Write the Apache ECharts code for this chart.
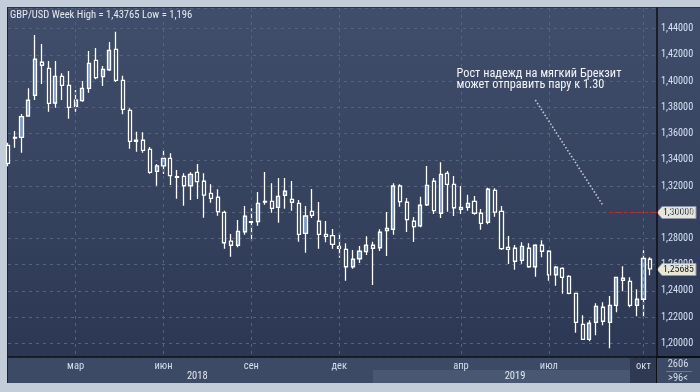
<!DOCTYPE html>
<html><head><meta charset="utf-8">
<script src="https://cdn.jsdelivr.net/npm/echarts@6/dist/echarts.min.js"></script>
<style>
html,body{margin:0;padding:0;background:#c3ccd9;overflow:hidden;}
#wrap{position:relative;width:700px;height:392px;}
#bg{position:absolute;left:7px;top:7px;width:693px;height:376px;border-left:1px solid #1c2433;border-top:1px solid #2a3345;box-sizing:border-box;
background:linear-gradient(to bottom,#414e6b 0px,#2c3853 349px,#3d4a66 349px,#3d4a66 376px);}
#band19{position:absolute;left:373px;top:370px;width:257px;height:13px;background:#4a5773;}
#oct{position:absolute;left:630px;top:357px;width:27px;height:26px;background:#2f3a52;}
#vline{position:absolute;left:656px;top:357px;width:1px;height:26px;background:#0c0f16;}
#hline{position:absolute;left:657px;top:356px;width:43px;height:2px;background:#0c0f16;}
#c{position:absolute;left:0;top:0;width:700px;height:392px;}
</style>
</head><body><div id="wrap"><div id="bg"></div><div id="band19"></div><div id="oct"></div><div id="vline"></div><div id="hline"></div><div id="c"></div></div>
<script>
const categories = ['2017-12-18','2017-12-25','2018-01-01','2018-01-08','2018-01-15','2018-01-22','2018-01-29','2018-02-05','2018-02-12','2018-02-19',
'2018-02-26','2018-03-05','2018-03-12','2018-03-19','2018-03-26','2018-04-02','2018-04-09','2018-04-16','2018-04-23','2018-04-30',
'2018-05-07','2018-05-14','2018-05-21','2018-05-28','2018-06-04','2018-06-11','2018-06-18','2018-06-25','2018-07-02','2018-07-09',
'2018-07-16','2018-07-23','2018-07-30','2018-08-06','2018-08-13','2018-08-20','2018-08-27','2018-09-03','2018-09-10','2018-09-17',
'2018-09-24','2018-10-01','2018-10-08','2018-10-15','2018-10-22','2018-10-29','2018-11-05','2018-11-12','2018-11-19','2018-11-26',
'2018-12-03','2018-12-10','2018-12-17','2018-12-24','2018-12-31','2019-01-07','2019-01-14','2019-01-21','2019-01-28','2019-02-04',
'2019-02-11','2019-02-18','2019-02-25','2019-03-04','2019-03-11','2019-03-18','2019-03-25','2019-04-01','2019-04-08','2019-04-15',
'2019-04-22','2019-04-29','2019-05-06','2019-05-13','2019-05-20','2019-05-27','2019-06-03','2019-06-10','2019-06-17','2019-06-24',
'2019-07-01','2019-07-08','2019-07-15','2019-07-22','2019-07-29','2019-08-05','2019-08-12','2019-08-19','2019-08-26','2019-09-02',
'2019-09-09','2019-09-16','2019-09-23','2019-09-30','2019-10-07','2019-10-14','2019-10-21'];

const openV = [1.3510,1.3565,1.3571,1.3734,1.3892,1.4144,1.4098,1.3833,1.4037,1.3968,
1.3808,1.3851,1.3945,1.4159,1.4034,1.4087,1.4243,1.4006,1.3777,1.3550,
1.3549,1.3480,1.3312,1.3353,1.3411,1.3272,1.3274,1.3202,1.3304,1.3236,
1.3144,1.3114,1.2999,1.2780,1.2748,1.2851,1.2928,1.2928,1.3082,1.3083,
1.3037,1.3129,1.3098,1.3068,1.2839,1.3007,1.2931,1.2831,1.2821,1.2740,
1.2717,1.2584,1.2645,1.2699,1.2748,1.2729,1.2859,1.2870,1.3200,1.3076,
1.2931,1.2895,1.3057,1.3236,1.2992,1.3297,1.3213,1.3022,1.3037,1.3083,
1.2992,1.2923,1.3167,1.3007,1.2732,1.2725,1.2633,1.2725,1.2584,1.2748,
1.2702,1.2523,1.2572,1.2511,1.2381,1.2145,1.2030,1.2160,1.2275,1.2160,
1.2290,1.2496,1.2473,1.2290,1.2336,1.2641];

const closeV = [1.3373,1.3570,1.3729,1.3854,1.4167,1.4121,1.3831,1.4037,1.3968,1.3800,
1.3854,1.3945,1.4136,1.4026,1.4090,1.4235,1.4006,1.3785,1.3541,1.3541,
1.3472,1.3304,1.3353,1.3411,1.3279,1.3266,1.3202,1.3289,1.3233,1.3131,
1.3106,1.3004,1.2767,1.2748,1.2854,1.2969,1.2923,1.3068,1.3078,1.3030,
1.3121,1.3160,1.3076,1.2831,1.2971,1.2976,1.2831,1.2816,1.2755,1.2725,
1.2584,1.2641,1.2702,1.2748,1.2725,1.2847,1.2877,1.3200,1.3080,1.2943,
1.2890,1.3053,1.3205,1.3012,1.3289,1.3213,1.3034,1.3037,1.3068,1.2992,
1.2915,1.3175,1.3000,1.2722,1.2717,1.2626,1.2740,1.2584,1.2748,1.2702,
1.2523,1.2580,1.2503,1.2381,1.2160,1.2030,1.2153,1.2282,1.2168,1.2290,
1.2503,1.2481,1.2290,1.2336,1.2648,1.2568];

const lowV = [1.3350,1.3492,1.3454,1.3729,1.3856,1.3978,1.3767,1.3797,1.3856,1.3713,
1.3767,1.3843,1.3912,1.4014,1.3963,1.4077,1.3993,1.3747,1.3485,1.3462,
1.3454,1.3294,1.3202,1.3292,1.3208,1.3103,1.3050,1.3093,1.3101,1.2958,
1.3073,1.2973,1.2722,1.2661,1.2732,1.2828,1.2783,1.2897,1.3057,1.2996,
1.2920,1.3027,1.3012,1.2775,1.2691,1.2956,1.2722,1.2770,1.2722,1.2653,
1.2478,1.2569,1.2612,1.2674,1.2445,1.2704,1.2666,1.2828,1.3042,1.2849,
1.2773,1.2885,1.3047,1.2986,1.2956,1.3004,1.2971,1.2986,1.3012,1.2981,
1.2867,1.2908,1.2966,1.2712,1.2605,1.2561,1.2607,1.2577,1.2508,1.2656,
1.2478,1.2439,1.2378,1.2374,1.2081,1.2026,1.2015,1.2061,1.2137,1.1962,
1.2237,1.2397,1.2275,1.2206,1.2198,1.2519];

const highV = [1.3530,1.3620,1.3749,1.3945,1.4352,1.4283,1.4154,1.4154,1.4060,1.4077,
1.3932,1.4001,1.4230,1.4253,1.4115,1.4299,1.4377,1.4041,1.3793,1.3614,
1.3610,1.3497,1.3368,1.3474,1.3449,1.3322,1.3297,1.3304,1.3368,1.3297,
1.3213,1.3175,1.3012,1.2834,1.2941,1.3047,1.3030,1.3154,1.3307,1.3221,
1.3261,1.3261,1.3238,1.3093,1.3047,1.3178,1.3078,1.2933,1.2872,1.2841,
1.2763,1.2712,1.2742,1.2816,1.2775,1.2870,1.3002,1.3221,1.3213,1.3108,
1.2963,1.3118,1.3353,1.3261,1.3381,1.3314,1.3276,1.3200,1.3133,1.3124,
1.3025,1.3187,1.3182,1.3047,1.2818,1.2750,1.2770,1.2763,1.2755,1.2786,
1.2709,1.2590,1.2580,1.2519,1.2385,1.2213,1.2175,1.2305,1.2313,1.2361,
1.2506,1.2587,1.2503,1.2412,1.2709,1.2656];

const monthTickIdx = [10,23,36,49,67,80,94];
const monthTickText = ['мар','июн','сен','дек','апр','июл','окт'];
const yearTickIdx = [28,75];
const yearTickText = ['2018','2019'];

const titleText = 'GBP/USD Week High = 1,43765 Low = 1,196';
const noteLines = ['Рост надежд на мягкий Брекзит','может отправить пару к 1.30'];
const targetLevel = 1.30;
const lastPrice = 1.25685;
const arrowFrom = [78, 1.3856];
const arrowTo = [88, 1.3053];
const targetStartIdx = 89;
const footTop = '2606';
const footBottom = '>96<';

const FONT = "'Roboto Condensed','Liberation Sans',Arial,sans-serif";
const candles = openV.map((o, i) => [o, closeV[i], lowV[i], highV[i]]);
const fmt = v => v.toFixed(5).replace('.', ',');

const chart = echarts.init(document.getElementById('c'), null, {renderer: 'canvas'});
const option = {
  backgroundColor: 'transparent',
  animation: false,
  title: {text: titleText, left: 10, top: 9.5, padding: 0,
    textStyle: {color: '#e6eaf1', fontSize: 10.6, fontWeight: 'normal', fontFamily: FONT}},
  grid: {left: 8, right: 43, top: 8, bottom: 35, containLabel: false},
  xAxis: [{
    type: 'category', data: categories, boundaryGap: false, z: 5,
    axisLine: {show: true, onZero: false, lineStyle: {color: '#0c0f16', width: 1.5}},
    axisTick: {show: false},
    axisLabel: {
      interval: (i) => monthTickIdx.includes(i), margin: 4, fontSize: 10.5, fontFamily: FONT,
      color: (v, i) => (monthTickIdx.indexOf(i) === monthTickIdx.length - 1 ? '#7c879c' : '#d5deec'),
      formatter: (v, i) => { const k = monthTickIdx.indexOf(i); return k >= 0 ? monthTickText[k] : ''; }
    },
    splitLine: {show: true, interval: (i) => monthTickIdx.includes(i),
      lineStyle: {color: '#56637f', type: [3, 4], width: 1}}
  }, {
    type: 'category', data: categories, boundaryGap: false, position: 'bottom', z: 5,
    axisLine: {show: false}, axisTick: {show: false}, splitLine: {show: false},
    axisLabel: {
      interval: (i) => yearTickIdx.includes(i), margin: 14, fontSize: 10.5, fontFamily: FONT, color: '#e3e8f0',
      formatter: (v, i) => { const k = yearTickIdx.indexOf(i); return k >= 0 ? yearTickText[k] : ''; }
    }
  }],
  yAxis: {
    type: 'value', position: 'right', scale: true,
    min: 1.18954, max: 1.45579, splitNumber: 13,
    axisLine: {show: true, lineStyle: {color: '#0c0f16', width: 1.5}},
    axisTick: {show: false},
    axisLabel: {margin: 4, fontSize: 10.2, fontFamily: FONT, color: '#d6e2f4',
      showMinLabel: false, showMaxLabel: false, formatter: fmt},
    splitLine: {show: true, lineStyle: {color: '#56637f', type: [3, 4], width: 1}}
  },
  series: [{
    type: 'candlestick', data: candles, barWidth: 3.6, clip: true,
    itemStyle: {color: '#7d99c6', color0: '#323e5b', borderColor: '#ffffff', borderColor0: '#ffffff', borderWidth: 1.3},
    markLine: {
      silent: true, symbol: ['none', 'none'], label: {show: false},
      data: [
        [{coord: [categories[arrowFrom[0]], arrowFrom[1]], lineStyle: {color: '#c3cad6', type: [1.5, 2], width: 1.6}},
         {coord: [categories[arrowTo[0]], arrowTo[1]]}],
        [{coord: [categories[targetStartIdx], targetLevel], lineStyle: {color: '#c8232c', type: [3, 2], width: 1.2}},
         {coord: [categories[categories.length - 1], targetLevel]}]
      ]
    }
  }]
};
chart.setOption(option);

function tag(y, text) {
  return {type: 'group', z: 50, children: [
    {type: 'polygon', shape: {points: [[657, y], [662, y - 6], [696, y - 6], [696, y + 6], [662, y + 6]]},
     style: {fill: '#e9e8d6', stroke: '#8d96a8', lineWidth: 1}},
    {type: 'text', x: 663, y: y + 0.5, style: {text: text, fill: '#151515', font: '9.8px ' + FONT, verticalAlign: 'middle'}}
  ]};
}
const yT = chart.convertToPixel({yAxisIndex: 0}, targetLevel);
const yL = chart.convertToPixel({yAxisIndex: 0}, lastPrice);
chart.setOption({graphic: [
  tag(Math.round(yT) + 0.5, fmt(targetLevel)),
  tag(Math.round(yL) + 0.5, fmt(lastPrice)),
  {type: 'text', z: 50, x: 456.5, y: 68,
   style: {text: noteLines.join('\n'), fill: '#f2f4f8', font: '12.3px ' + FONT, lineHeight: 11.5}},
  {type: 'text', z: 50, x: 678, y: 364.5, style: {text: footTop, fill: '#d3dbea', font: '10.5px ' + FONT, align: 'center', verticalAlign: 'middle'}},
  {type: 'line', z: 50, shape: {x1: 666, y1: 371.5, x2: 692, y2: 371.5}, style: {stroke: '#6c7893', lineWidth: 1}},
  {type: 'text', z: 50, x: 678, y: 378, style: {text: footBottom, fill: '#d3dbea', font: '10.5px ' + FONT, align: 'center', verticalAlign: 'middle'}}
]});
</script></body></html>
